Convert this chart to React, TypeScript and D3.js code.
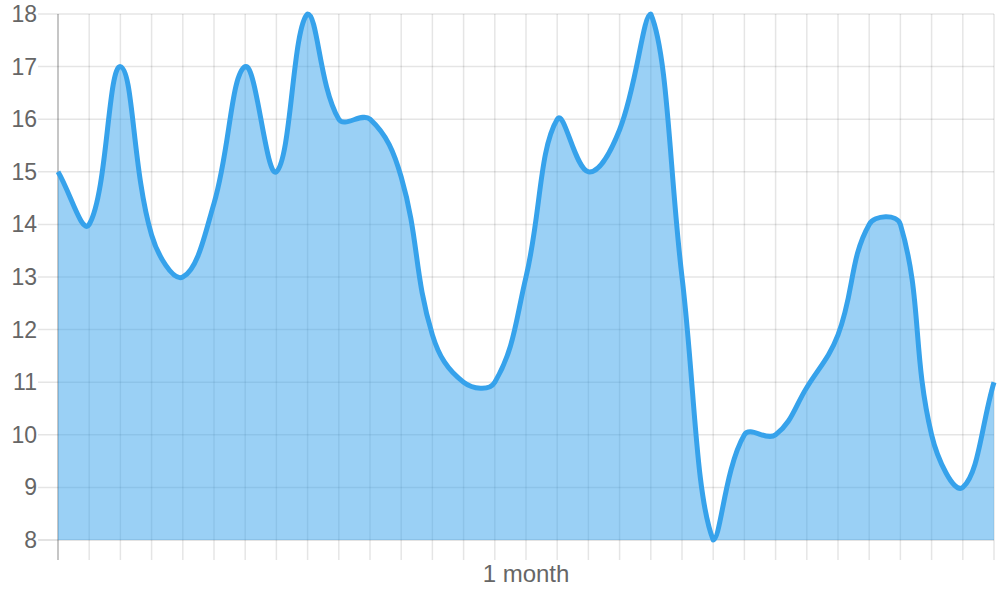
import React, { useEffect, useRef } from 'react';
import * as d3 from 'd3';

// one value per day
const days = d3.range(31);
const values = [
  15, 14, 17, 13.8, 13, 14.4, 17, 15, 18, 16, 16, 14.9, 11.9, 11, 11, 13,
  16, 15, 15.8, 18, 13, 8, 10, 10, 10.9, 11.9, 14, 14, 10, 9, 11,
];
const yTicks = [8, 9, 10, 11, 12, 13, 14, 15, 16, 17, 18];
const xTitle = '1 month';

const WIDTH = 1000;
const HEIGHT = 600;

const App: React.FC = () => {
  const svgRef = useRef<SVGSVGElement>(null);

  useEffect(() => {
    if (!svgRef.current) return;
    const svg = d3.select(svgRef.current);
    svg.selectAll('*').remove();

    const left = 58, right = 994, top = 14, bottom = 540;
    const font = '"Liberation Sans", Arial, sans-serif';

    const x = d3.scaleLinear().domain([0, days.length - 1]).range([left, right]);
    const y = d3.scaleLinear().domain([8, 18]).range([bottom, top]);

    // grid
    const grid = svg.append('g');
    grid.selectAll('line.v')
      .data(days)
      .join('line')
      .attr('class', 'v')
      .attr('x1', d => x(d))
      .attr('x2', d => x(d))
      .attr('y1', top)
      .attr('y2', bottom + 20)
      .attr('stroke', d => (d === 0 ? 'rgba(0,0,0,0.3)' : 'rgba(0,0,0,0.1)'))
      .attr('stroke-width', 1.5);

    grid.selectAll('line.h')
      .data(yTicks)
      .join('line')
      .attr('class', 'h')
      .attr('x1', left - 20)
      .attr('x2', right)
      .attr('y1', d => y(d))
      .attr('y2', d => y(d))
      .attr('stroke', d => (d === 8 ? 'rgba(0,0,0,0.15)' : 'rgba(0,0,0,0.1)'))
      .attr('stroke-width', 1.5);

    // y labels
    svg.append('g')
      .selectAll('text')
      .data(yTicks)
      .join('text')
      .attr('x', 37)
      .attr('y', d => y(d))
      .attr('dy', '0.35em')
      .attr('text-anchor', 'end')
      .style('font-family', font)
      .style('font-size', '23px')
      .style('fill', '#666')
      .text(d => d);

    svg.append('text')
      .attr('x', (left + right) / 2)
      .attr('y', 582)
      .attr('text-anchor', 'middle')
      .style('font-family', font)
      .style('font-size', '24px')
      .style('fill', '#666')
      .text(xTitle);

    // chart.js style spline (tension 0.4), control points capped to the plot area
    const pts = values.map((v, i) => [x(i), y(v)]);
    const tension = 0.4;
    const cap = (v: number, lo: number, hi: number) => Math.max(Math.min(v, hi), lo);
    const ctrl = pts.map((p, i) => {
      const prev = pts[i - 1] || p;
      const next = pts[i + 1] || p;
      const d01 = Math.hypot(p[0] - prev[0], p[1] - prev[1]);
      const d12 = Math.hypot(next[0] - p[0], next[1] - p[1]);
      let s01 = d01 / (d01 + d12);
      let s12 = d12 / (d01 + d12);
      if (isNaN(s01)) s01 = 0;
      if (isNaN(s12)) s12 = 0;
      const fa = tension * s01;
      const fb = tension * s12;
      return {
        px: cap(p[0] - fa * (next[0] - prev[0]), left, right),
        py: cap(p[1] - fa * (next[1] - prev[1]), top, bottom),
        nx: cap(p[0] + fb * (next[0] - prev[0]), left, right),
        ny: cap(p[1] + fb * (next[1] - prev[1]), top, bottom),
      };
    });

    const drawLine = (path: d3.Path) => {
      path.moveTo(pts[0][0], pts[0][1]);
      for (let i = 1; i < pts.length; i++) {
        const a = ctrl[i - 1];
        const b = ctrl[i];
        path.bezierCurveTo(a.nx, a.ny, b.px, b.py, pts[i][0], pts[i][1]);
      }
      return path;
    };

    const areaPath = drawLine(d3.path());
    areaPath.lineTo(x(days.length - 1), bottom);
    areaPath.lineTo(x(0), bottom);
    areaPath.closePath();

    svg.append('path')
      .attr('d', areaPath.toString())
      .attr('fill', 'rgba(54,162,235,0.5)');

    svg.append('path')
      .attr('d', drawLine(d3.path()).toString())
      .attr('fill', 'none')
      .attr('stroke', 'rgb(54,162,235)')
      .attr('stroke-width', 5)
      .attr('stroke-linejoin', 'round');
  }, []);

  return (
    <svg
      ref={svgRef}
      width={WIDTH}
      height={HEIGHT}
      style={{ position: 'absolute', left: 0, top: 0, background: '#fff' }}
    />
  );
};

export default App;
